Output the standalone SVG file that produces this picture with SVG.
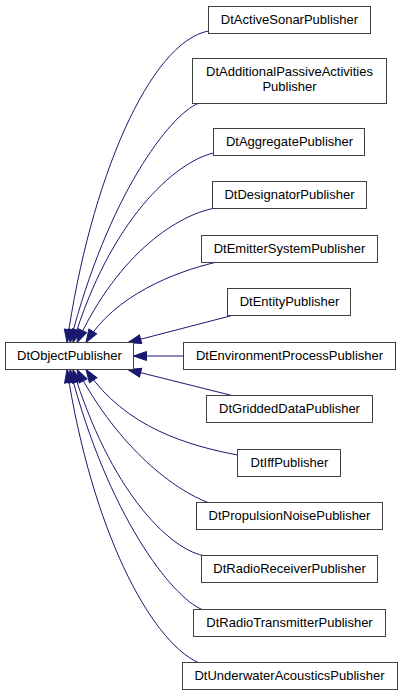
<svg xmlns="http://www.w3.org/2000/svg" width="403" height="696" viewBox="0 0 403 696">
<defs>
<style>
.node rect{fill:#ffffff;stroke:#404040;stroke-width:1}
.node text{font-family:"Liberation Sans",Arial,sans-serif;font-size:13px;fill:#000000;text-anchor:middle}
.edge{fill:none;stroke:#191970;stroke-width:1;marker-end:url(#arr)}
</style>
<marker id="arr" markerUnits="userSpaceOnUse" markerWidth="16" markerHeight="12" refX="13" refY="5" orient="auto" overflow="visible">
<path d="M0,0.5 L13,5 L0,9.5 z" fill="#191970" stroke="#191970" stroke-width="1"/>
</marker>
</defs>
<rect width="403" height="696" fill="#ffffff"/>
<g id="edges">
<path class="edge" d="M208.5,31 C150,42 90,180 67,342.5"/>
<path class="edge" d="M198,103.5 C170,115 108,195 70,342.5"/>
<path class="edge" d="M213.5,153 C175,162 110,220 73,342.5"/>
<path class="edge" d="M213,208.5 C180,215 120,250 77,342.5"/>
<path class="edge" d="M215,262.5 C175,272 115,295 86,342.5"/>
<path class="edge" d="M232,315.5 L128,342.5"/>
<path class="edge" d="M183.5,356 L133.5,356"/>
<path class="edge" d="M232,395.5 L128,369.5"/>
<path class="edge" d="M237.5,455 C190,446 125,428 86,369.5"/>
<path class="edge" d="M208,502.5 C175,490 120,450 77,369.5"/>
<path class="edge" d="M203,555.5 C168,548 110,490 73,369.5"/>
<path class="edge" d="M202,609.5 C172,597 108,516 70,369.5"/>
<path class="edge" d="M198,662.5 C150,640 92,530 67,369.5"/>
</g>
<g id="DtObjectPublisher" class="node"><rect x="5.5" y="342.5" width="128" height="27"/><text x="69.5" y="360">DtObjectPublisher</text></g>
<g id="DtActiveSonarPublisher" class="node"><rect x="208.5" y="6.5" width="162" height="27"/><text x="289.5" y="24">DtActiveSonarPublisher</text></g>
<g id="DtAdditionalPassiveActivitiesPublisher" class="node"><rect x="192.5" y="58.5" width="194" height="45"/><text x="289.5" y="75.5">DtAdditionalPassiveActivities</text><text x="289.5" y="91">Publisher</text></g>
<g id="DtAggregatePublisher" class="node"><rect x="213.5" y="128.5" width="151" height="27"/><text x="289.5" y="146">DtAggregatePublisher</text></g>
<g id="DtDesignatorPublisher" class="node"><rect x="212.5" y="181.5" width="154" height="27"/><text x="289.5" y="199">DtDesignatorPublisher</text></g>
<g id="DtEmitterSystemPublisher" class="node"><rect x="201.5" y="235.5" width="176" height="27"/><text x="289.5" y="253">DtEmitterSystemPublisher</text></g>
<g id="DtEntityPublisher" class="node"><rect x="227.5" y="288.5" width="123" height="27"/><text x="289.5" y="306">DtEntityPublisher</text></g>
<g id="DtEnvironmentProcessPublisher" class="node"><rect x="183.5" y="342.5" width="212" height="27"/><text x="289.5" y="360">DtEnvironmentProcessPublisher</text></g>
<g id="DtGriddedDataPublisher" class="node"><rect x="206.5" y="395.5" width="166" height="27"/><text x="289.5" y="413">DtGriddedDataPublisher</text></g>
<g id="DtIffPublisher" class="node"><rect x="237.5" y="449.5" width="103" height="27"/><text x="289.5" y="467">DtIffPublisher</text></g>
<g id="DtPropulsionNoisePublisher" class="node"><rect x="196.5" y="502.5" width="186" height="27"/><text x="289.5" y="520">DtPropulsionNoisePublisher</text></g>
<g id="DtRadioReceiverPublisher" class="node"><rect x="201.5" y="555.5" width="176" height="27"/><text x="289.5" y="573">DtRadioReceiverPublisher</text></g>
<g id="DtRadioTransmitterPublisher" class="node"><rect x="193.5" y="609.5" width="192" height="27"/><text x="289.5" y="627">DtRadioTransmitterPublisher</text></g>
<g id="DtUnderwaterAcousticsPublisher" class="node"><rect x="182.5" y="662.5" width="215" height="27"/><text x="289.5" y="680">DtUnderwaterAcousticsPublisher</text></g>
</svg>
